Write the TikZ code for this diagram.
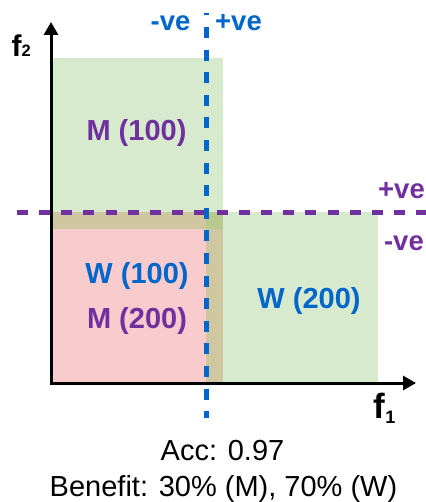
\documentclass[tikz,border=0pt]{standalone}
\usepackage{fontspec}
\setmainfont{Liberation Sans}
\usetikzlibrary{arrows.meta}
\definecolor{gr}{HTML}{D7EACD}
\definecolor{pk}{HTML}{F8CCCC}
\definecolor{tn}{HTML}{CFC7A0}
\definecolor{dk}{HTML}{B7C98E}
\definecolor{blu}{HTML}{0066CC}
\definecolor{pur}{HTML}{7030A0}
\tikzset{
  axis/.style={line width=3pt, -{Triangle[length=13pt,width=14pt]}},
  bluline/.style={blu, line width=4.8pt, dash pattern=on 11pt off 11.6pt, dash phase=8.3pt},
  purline/.style={pur, line width=4.8pt, dash pattern=on 11pt off 11.2pt},
  lbl/.style={inner sep=0pt, anchor=base, font=\bfseries\fontsize{29}{30}\selectfont},
  velbl/.style={inner sep=0pt, anchor=base, font=\bfseries\fontsize{27.5}{30}\selectfont},
  txt/.style={inner sep=0pt, anchor=base, font=\fontsize{29}{30}\selectfont}
}
\begin{document}
\begin{tikzpicture}[x=1pt,y=-1pt]
\useasboundingbox (0,0) rectangle (425,502);
% regions
\fill[gr] (51,58) rectangle (223,212);
\fill[pk] (51,229) rectangle (206,383);
\fill[tn] (51,212) rectangle (206,229);
\fill[tn] (206,229) rectangle (223,383);
\fill[dk] (206,212) rectangle (223,229);
\fill[gr] (223,212) rectangle (378,383);
% axes
\coordinate (o) at (51,383);
\coordinate (ytip) at (51,22);
\coordinate (xtip) at (416,383);
\draw[axis] ([yshift=1.5pt]o) -- (ytip);
\draw[axis] ([xshift=-1.5pt]o) -- (xtip);
% dashed boundaries
\coordinate (ps) at (16.7,212.2);
\coordinate (pe) at (426,212.2);
\coordinate (bs) at (206.3,12.7);
\coordinate (be) at (206.3,418);
\draw[purline] (ps) -- (pe);
\draw[bluline] (bs) -- (be);
% labels
\node[velbl, text=blu] (bneg) at (170.5,30.7) {-ve};
\node[velbl, text=blu] (bpos) at (238.5,30.7) {+ve};
\node[velbl, text=pur, anchor=base east] (ppos) at (425,198.3) {+ve};
\node[velbl, text=pur, anchor=base east] (pneg) at (424,250) {-ve};
\node[lbl, text=pur] (m100) at (136.5,141) {M (100)};
\node[lbl, text=blu] (w100) at (137,283) {W (100)};
\node[lbl, text=pur] (m200) at (137,328) {M (200)};
\node[lbl, text=blu] (w200) at (309,308) {W (200)};
\node[inner sep=0pt, anchor=base west, font=\bfseries] (f2) at (11.5,57)
  {\fontsize{30}{30}\selectfont f\fontsize{16.5}{17}\selectfont 2};
\node[inner sep=0pt, anchor=base west, font=\bfseries] (f1) at (373.5,418.3)
  {\fontsize{35}{35}\selectfont f\raisebox{-4.7pt}{\fontsize{18}{18}\selectfont 1}};
\node[txt] (acc) at (222.5,460.7) {Acc: 0.97};
\node[txt] (ben) at (223.5,496.7) {Benefit: 30\% (M), 70\% (W)};
\end{tikzpicture}
\end{document}
